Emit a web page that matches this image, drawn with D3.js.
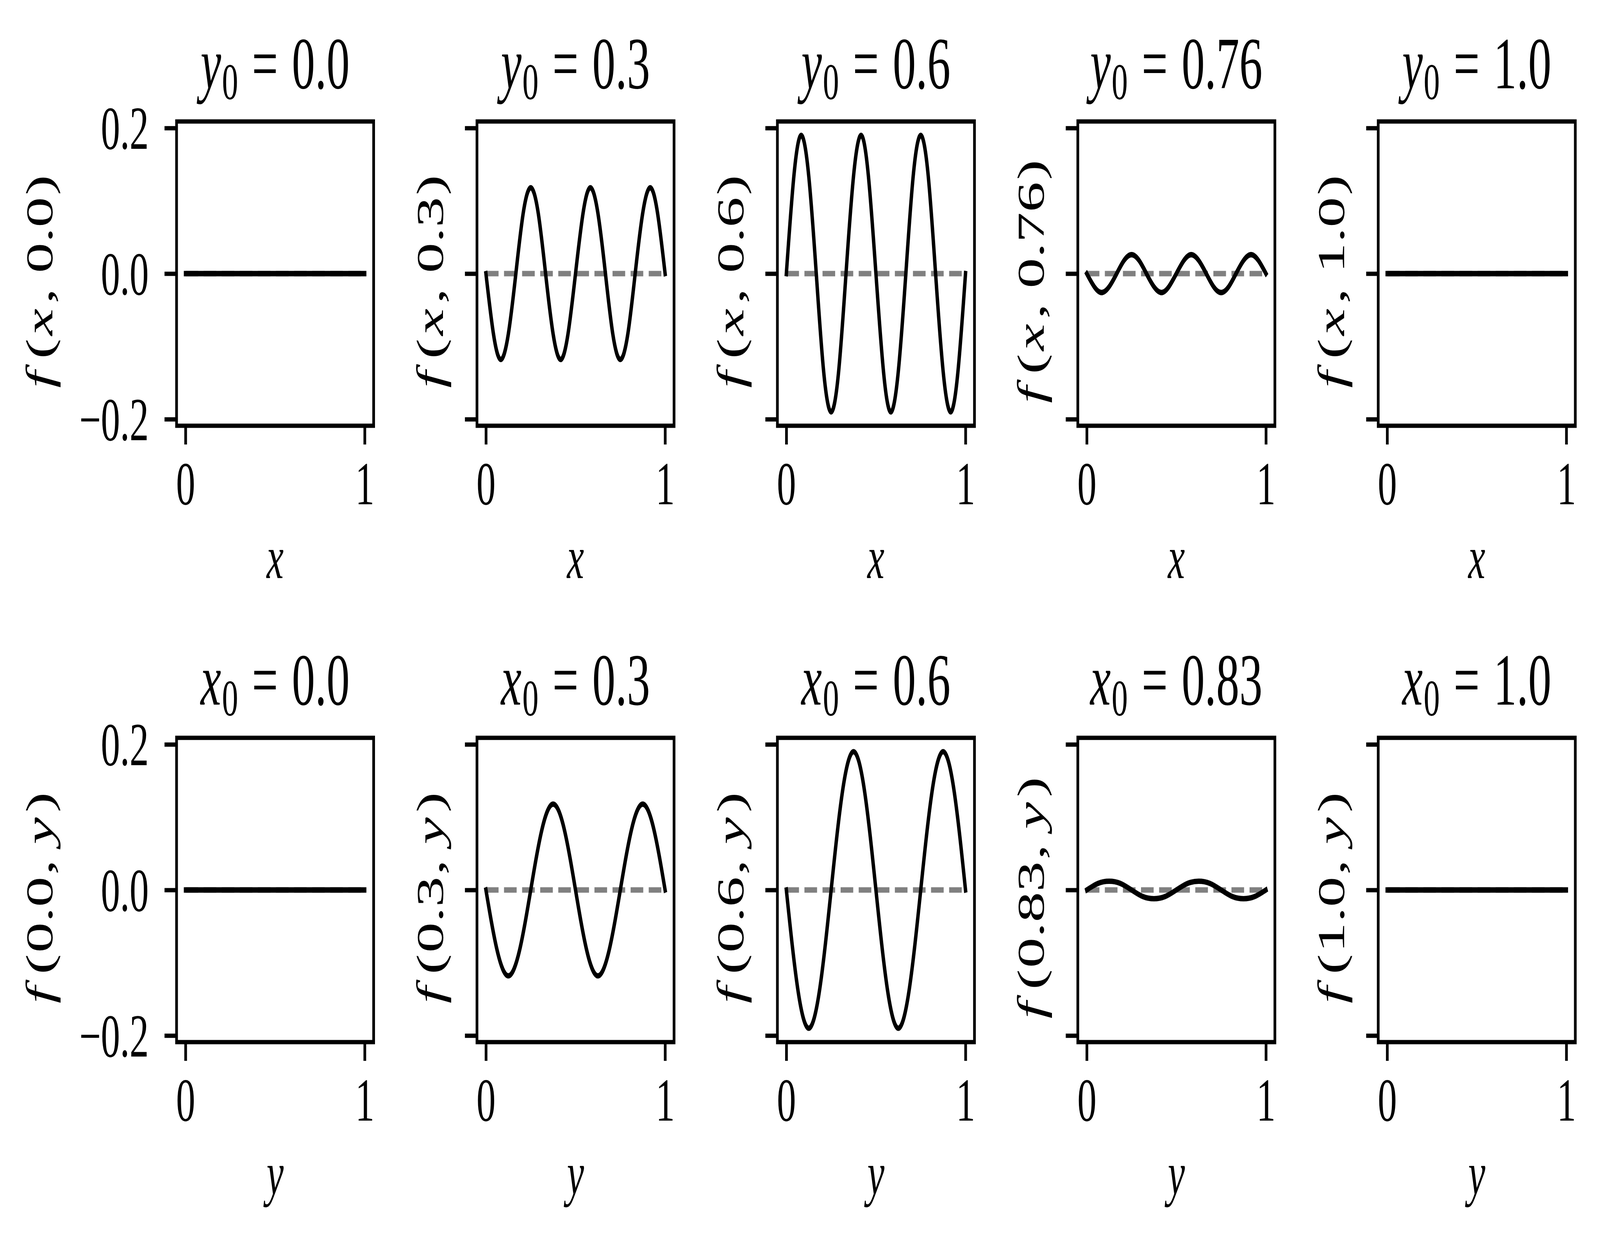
<!DOCTYPE html>
<html>
<head>
<meta charset="utf-8">
<script src="https://cdn.jsdelivr.net/npm/d3@7"></script>
<style>
  html, body { margin: 0; padding: 0; background: #fff; overflow: hidden; }
  #chart { display: block; width: 100vw; height: 100vh; }
  svg text { font-family: "Liberation Serif", "Times New Roman", serif; fill: #000; }
</style>
</head>
<body>
<svg id="chart"></svg>
<script>
// values
const yFixed = ["0.0", "0.3", "0.6", "0.76", "1.0"];   // top row: f(x, y0)
const xFixed = ["0.0", "0.3", "0.6", "0.83", "1.0"];   // bottom row: f(x0, y)

const xTicks = [0, 1];
const xTickLabels = ["0", "1"];
const yTicks = [-0.2, 0.0, 0.2];
const yTickLabels = ["\u22120.2", "0.0", "0.2"];

// sample positions along the free variable
const gridX = [0, 0.042, 0.083, 0.125, 0.167, 0.208, 0.25, 0.292, 0.333, 0.375, 0.417, 0.458,
  0.5, 0.542, 0.583, 0.625, 0.667, 0.708, 0.75, 0.792, 0.833, 0.875, 0.917, 0.958, 1];
const gridY = [0, 0.0625, 0.125, 0.1875, 0.25, 0.3125, 0.375, 0.4375, 0.5,
  0.5625, 0.625, 0.6875, 0.75, 0.8125, 0.875, 0.9375, 1];

// top row
const fy00 = [0, 0, 0, 0, 0, 0, 0, 0, 0, 0, 0, 0, 0, 0, 0, 0, 0, 0, 0, 0, 0, 0, 0, 0, 0];
const fy03 = [0, -0.083, -0.118, -0.083, 0, 0.083, 0.118, 0.083, 0, -0.083, -0.118, -0.083, 0,
  0.083, 0.118, 0.083, 0, -0.083, -0.118, -0.083, 0, 0.083, 0.118, 0.083, 0];
const fy06 = [0, 0.134, 0.190, 0.134, 0, -0.134, -0.190, -0.134, 0, 0.134, 0.190, 0.134, 0,
  -0.134, -0.190, -0.134, 0, 0.134, 0.190, 0.134, 0, -0.134, -0.190, -0.134, 0];
const fy076 = [0, -0.018, -0.026, -0.018, 0, 0.018, 0.026, 0.018, 0, -0.018, -0.026, -0.018, 0,
  0.018, 0.026, 0.018, 0, -0.018, -0.026, -0.018, 0, 0.018, 0.026, 0.018, 0];
const fy10 = [0, 0, 0, 0, 0, 0, 0, 0, 0, 0, 0, 0, 0, 0, 0, 0, 0, 0, 0, 0, 0, 0, 0, 0, 0];

// bottom row
const fx00 = [0, 0, 0, 0, 0, 0, 0, 0, 0, 0, 0, 0, 0, 0, 0, 0, 0];
const fx03 = [0, -0.083, -0.118, -0.083, 0, 0.083, 0.118, 0.083, 0,
  -0.083, -0.118, -0.083, 0, 0.083, 0.118, 0.083, 0];
const fx06 = [0, -0.134, -0.190, -0.134, 0, 0.134, 0.190, 0.134, 0,
  -0.134, -0.190, -0.134, 0, 0.134, 0.190, 0.134, 0];
const fx083 = [0, 0.009, 0.012, 0.009, 0, -0.009, -0.012, -0.009, 0,
  0.009, 0.012, 0.009, 0, -0.009, -0.012, -0.009, 0];
const fx10 = [0, 0, 0, 0, 0, 0, 0, 0, 0, 0, 0, 0, 0, 0, 0, 0, 0];

// dashed zero reference
const refX = [0, 1];
const refY = [0, 0];

const width = 6511, height = 3190;
// drawn in figure pixels, stretched to fill the window
const svg = d3.select("#chart")
  .attr("viewBox", `0 0 ${width} ${height}`)
  .attr("preserveAspectRatio", "none");
svg.append("rect").attr("width", width).attr("height", height).attr("fill", "#fff");

const panelLeft = 718.5, panelStep = 1222.5, panelW = 802, panelH = 779;
const rowTop = [311, 1889];
const tickFont = 156, titleFont = 188;

const x = d3.scaleLinear().domain([-0.05, 1.05]).range([0, panelW]);
const y = d3.scaleLinear().domain([-0.209, 0.209]).range([panelH, 0]);

const line = d3.line()
  .x(d => x(d[0]))
  .y(d => y(d[1]))
  .curve(d3.curveNatural);

const rows = [
  { fixed: "y", free: "x", labels: yFixed, grid: gridX, series: [fy00, fy03, fy06, fy076, fy10] },
  { fixed: "x", free: "y", labels: xFixed, grid: gridY, series: [fx00, fx03, fx06, fx083, fx10] }
];

// mixed italic / upright text, em-relative spacing
function mathText(t, parts, size) {
  parts.forEach(p => {
    const s = t.append("tspan").text(p.t)
      .attr("font-size", p.sub ? size * 0.7 : size);
    if (p.it) s.attr("font-style", "italic");
    if (p.dx) s.attr("dx", p.dx * size);
    if (p.dy) s.attr("dy", p.dy * size);
  });
}

rows.forEach((row, r) => {
  row.series.forEach((vals, c) => {
    const g = svg.append("g")
      .attr("transform", `translate(${panelLeft + c * panelStep},${rowTop[r]})`);

    g.append("path")
      .attr("d", line(refX.map((v, i) => [v, refY[i]])))
      .attr("fill", "none")
      .attr("stroke", "#808080")
      .attr("stroke-width", 13.9)
      .attr("stroke-dasharray", "51.4 22.2");

    g.append("path")
      .attr("d", line(row.grid.map((v, i) => [v, vals[i]])))
      .attr("fill", "none")
      .attr("stroke", "#000")
      .attr("stroke-width", 13.9)
      .attr("stroke-linecap", "square")
      .attr("stroke-linejoin", "round");

    g.append("rect")
      .attr("width", panelW)
      .attr("height", panelH)
      .attr("fill", "none")
      .attr("stroke", "#000")
      .attr("stroke-width", 11);

    const yAxis = d3.axisLeft(y)
      .tickValues(yTicks)
      .tickSize(49)
      .tickPadding(64)
      .tickFormat((d, i) => c === 0 ? yTickLabels[i] : "");
    const ga = g.append("g").call(yAxis)
      .attr("font-size", tickFont)
      .attr("font-family", "Liberation Serif");
    ga.select(".domain").remove();
    ga.selectAll("line").attr("stroke-width", 11).attr("stroke", "#000");
    ga.selectAll("text").attr("dy", "0.34em");

    const xAxis = d3.axisBottom(x)
      .tickValues(xTicks)
      .tickSize(48)
      .tickFormat((d, i) => xTickLabels[i]);
    const gx = g.append("g").attr("transform", `translate(0,${panelH})`).call(xAxis)
      .attr("font-size", tickFont)
      .attr("font-family", "Liberation Serif");
    gx.select(".domain").remove();
    gx.selectAll("line").attr("stroke-width", 11).attr("stroke", "#000");
    gx.selectAll("text").attr("y", 201).attr("dy", 0);

    // title
    const title = g.append("text")
      .attr("x", panelW / 2)
      .attr("y", -85)
      .attr("text-anchor", "middle");
    mathText(title, [
      { t: row.fixed, it: true },
      { t: "0", sub: true, dx: 0.02, dy: 0.15 },
      { t: "=", dx: 0.3, dy: -0.15 },
      { t: row.labels[c], dx: 0.3 }
    ], titleFont);

    // x label
    const xl = g.append("text")
      .attr("x", panelW / 2)
      .attr("y", panelH + 390)
      .attr("text-anchor", "middle");
    mathText(xl, [{ t: row.free, it: true }], tickFont);

    // y label
    const lx = c === 0 ? -505 : -138;
    const yl = g.append("text")
      .attr("transform", `translate(${lx},${panelH / 2 + 20}) rotate(-90)`)
      .attr("text-anchor", "middle");
    const parts = row.fixed === "y"
      ? [{ t: "f", it: true }, { t: "(", dx: 0.2 }, { t: "x", it: true, dx: 0.05 },
         { t: ",", dx: 0.08 }, { t: row.labels[c], dx: 0.25 }, { t: ")", dx: 0.03 }]
      : [{ t: "f", it: true }, { t: "(", dx: 0.2 }, { t: row.labels[c], dx: 0.02 },
         { t: ",", dx: 0.03 }, { t: "y", it: true, dx: 0.25 }, { t: ")", dx: 0.08 }];
    mathText(yl, parts, tickFont);
  });
});
</script>
</body>
</html>
